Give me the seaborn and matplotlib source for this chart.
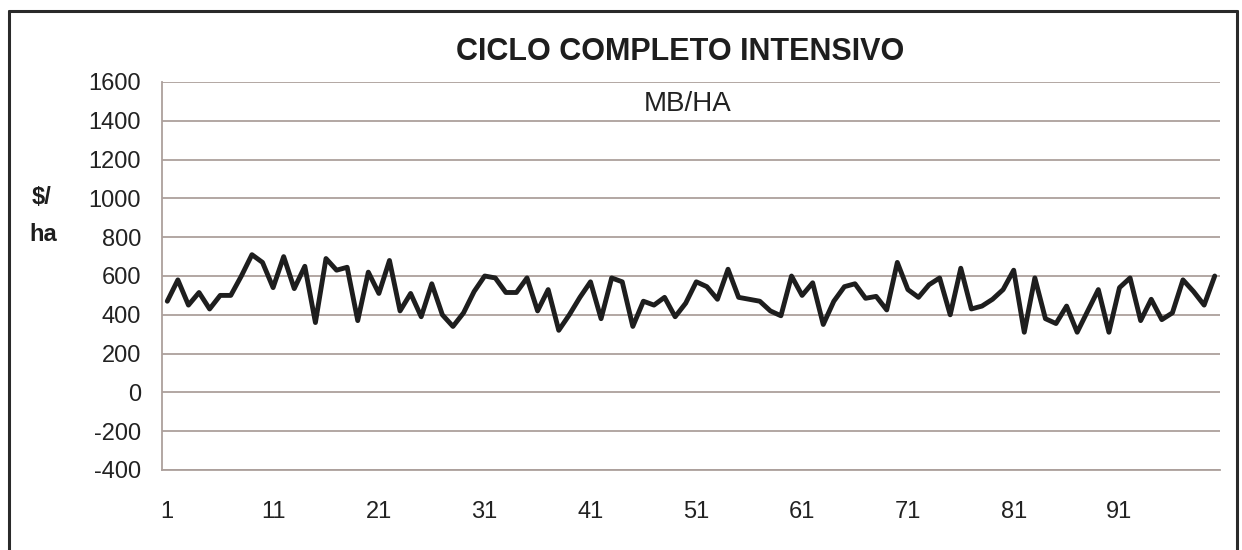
import numpy as np
import pandas as pd
import matplotlib.pyplot as plt
import seaborn as sns
from matplotlib.lines import Line2D

# MB/HA values per period
periods = list(range(1, 101))
mb_ha = [470, 580, 450, 515, 430, 500, 500, 600, 710, 670,
         540, 700, 535, 650, 360, 690, 630, 645, 370, 620,
         510, 680, 420, 510, 390, 560, 400, 340, 410, 520,
         600, 590, 515, 515, 590, 420, 530, 320, 400, 490,
         570, 380, 590, 570, 340, 470, 450, 490, 390, 460,
         570, 545, 480, 635, 490, 480, 470, 420, 395, 600,
         500, 565, 350, 470, 545, 560, 485, 495, 425, 670,
         530, 490, 555, 590, 400, 640, 430, 445, 480, 530,
         630, 310, 590, 380, 355, 445, 310, 420, 530, 310,
         540, 590, 370, 480, 375, 410, 580, 520, 450, 600]
y_ticks = list(range(-400, 1601, 200))
x_ticks = list(range(1, 101, 10))

sns.set_style("white")
plt.rcParams['font.family'] = ['Liberation Sans', 'DejaVu Sans']
plt.rcParams['axes.unicode_minus'] = False

df = pd.DataFrame({"periodo": periods, "mb": mb_ha})

fig = plt.figure(figsize=(12.42, 5.5), dpi=100)
ax = fig.add_axes([162 / 1242, 80 / 550, 1058 / 1242, 388 / 550])

sns.lineplot(data=df, x="periodo", y="mb", color="#1e1e1e", linewidth=3.5, ax=ax)

ax.set_xlim(0.5, 100.5)
ax.set_ylim(-400, 1600)
ax.set_yticks(y_ticks)
ax.set_xticks(x_ticks)
ax.tick_params(axis="y", labelsize=17, length=7, color="#aca09c", pad=8, labelcolor="#222222")
ax.tick_params(axis="x", labelsize=17, length=0, pad=22, labelcolor="#222222")
ax.grid(axis="y", color="#aca09c", linewidth=1.3)
ax.set_axisbelow(True)
for side in ["top", "right"]:
    ax.spines[side].set_visible(False)
ax.spines["left"].set_color("#aca09c")
ax.spines["bottom"].set_color("#aca09c")
ax.spines["left"].set_linewidth(1.3)
ax.spines["bottom"].set_linewidth(1.3)
ax.set_xlabel("")
ax.set_ylabel("")

fig.text(680 / 1242, 1 - 52 / 550, "CICLO COMPLETO INTENSIVO", ha="center", va="center",
         fontsize=22, fontweight="bold", color="#1e1e1e")
fig.text(688 / 1242, 1 - 104 / 550, "MB/HA", ha="center", va="center",
         fontsize=20, color="#222222")
fig.text(42 / 1242, 1 - 198 / 550, "$/", ha="center", va="center",
         fontsize=17, fontweight="bold", color="#1e1e1e")
fig.text(43 / 1242, 1 - 234 / 550, "ha", ha="center", va="center",
         fontsize=17, fontweight="bold", color="#1e1e1e")

# outer frame
x0, x1, yt = 9 / 1242, 1237 / 1242, 1 - 11 / 550
for xs, ys in [([x0, x0], [0, yt]), ([x0, x1], [yt, yt]), ([x1, x1], [0, yt])]:
    fig.add_artist(Line2D(xs, ys, transform=fig.transFigure, color="#2a2a2a", linewidth=2.2))

fig.savefig("out.png", dpi=100)
